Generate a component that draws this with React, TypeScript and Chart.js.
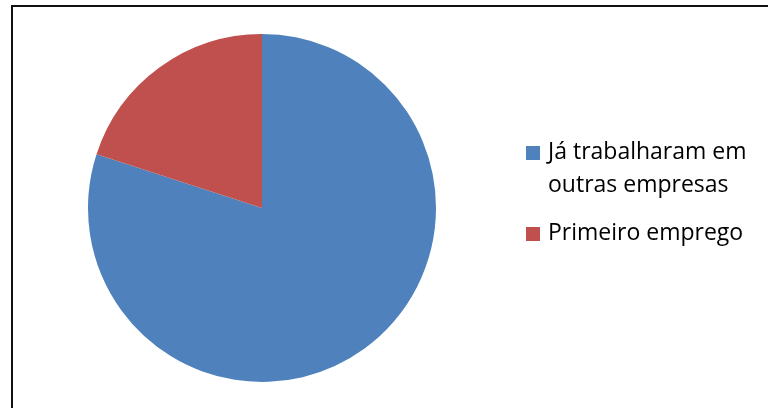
import React, { useEffect, useRef } from "react";
import { Chart, registerables } from "chart.js";

Chart.register(...registerables);

const categories = ["Já trabalharam em outras empresas", "Primeiro emprego"];
const values = [80, 20];
const colors = ["#4F81BD", "#C0504D"];

export default function App() {
  const canvasRef = useRef<HTMLCanvasElement | null>(null);

  useEffect(() => {
    const canvas = canvasRef.current;
    if (!canvas) return;
    const chart = new Chart(canvas, {
      type: "pie",
      data: {
        labels: categories,
        datasets: [
          {
            data: values,
            backgroundColor: colors,
            borderWidth: 0,
          },
        ],
      },
      options: {
        animation: false,
        responsive: false,
        devicePixelRatio: 1,
        layout: { padding: { left: 88, top: 34, right: 332, bottom: 26 } },
        plugins: {
          legend: { display: false },
          tooltip: { enabled: false },
        },
      },
    });
    return () => chart.destroy();
  }, []);

  const tops = [133.5, 214.5];

  return (
    <div style={{ position: "fixed", left: 0, top: 0, width: 768, height: 408, overflow: "hidden", background: "#fff" }}>
      <div
        style={{
          position: "absolute",
          left: 11,
          top: 5,
          width: 800,
          height: 450,
          borderTop: "2px solid #111",
          borderLeft: "2px solid #111",
        }}
      />
      <canvas
        ref={canvasRef}
        width={768}
        height={408}
        style={{ position: "absolute", left: 0, top: 0, width: 768, height: 408 }}
      />
      {categories.map((c, i) => (
        <div
          key={c}
          style={{
            position: "absolute",
            left: 526,
            top: tops[i],
            width: 240,
            display: "flex",
            alignItems: "flex-start",
            fontFamily: "'Open Sans', sans-serif",
            fontSize: 23,
            lineHeight: "33px",
            color: "#000",
          }}
        >
          <span
            style={{
              display: "inline-block",
              width: 14,
              height: 14,
              background: colors[i],
              marginTop: 12.5,
              marginRight: 8,
              flex: "0 0 auto",
            }}
          />
          <span style={{ width: 218, whiteSpace: "normal" }}>{c}</span>
        </div>
      ))}
    </div>
  );
}
